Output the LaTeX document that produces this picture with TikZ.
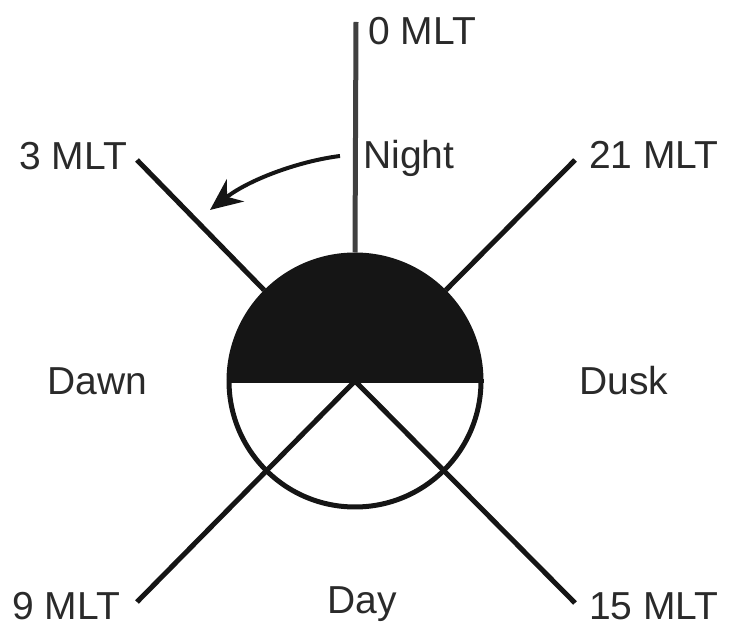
\documentclass[tikz,border=0pt]{standalone}
\usepackage{fontspec}
\setmainfont{Liberation Sans}
\usetikzlibrary{arrows.meta}
\definecolor{ink}{HTML}{151515}
\definecolor{txt}{HTML}{2A2A2A}
\definecolor{vline}{HTML}{404040}
\begin{document}
\begin{tikzpicture}[x=1pt,y=1pt,
  lbl/.style={anchor=base west,inner sep=0pt,text=txt,font=\fontsize{39}{46}\selectfont},
  spoke/.style={draw=ink,line width=5pt},
  disk/.style={circle,draw=ink,line width=5pt,minimum size=252pt,inner sep=0pt}]
\useasboundingbox (0,0) rectangle (732,627);
% disk
\coordinate (c) at (355,246);
\fill[ink] (481,246) arc[start angle=0,end angle=180,radius=126pt] -- cycle;
\node[disk] (d) at (c) {};
\draw[ink,line width=4pt] (d.west) -- (d.east);
% ends
\coordinate (top) at (356,605);
\coordinate (e3) at (137,467);
\coordinate (e21) at (575,467);
\coordinate (e9) at (137,25);
\coordinate (e15) at (575,24);
% spokes
\draw[spoke,draw=vline] (d.north) -- (top);
\draw[spoke] (d.135) -- (e3);
\draw[spoke] (d.45) -- (e21);
\draw[spoke] (c) -- (e9);
\draw[spoke] (c) -- (e15);
% arrow
\coordinate (as) at (340,471);
\coordinate (ae) at (210,417);
\draw[ink,line width=4pt,-{Stealth[length=32pt,width=28pt]}] (as) .. controls (300,466) and (250,448) .. (ae);
% labels
\node[lbl] (l0) at (368,582) {0 MLT};
\node[lbl] (night) at (363,458) {Night};
\node[lbl] (l21) at (589,458) {21 MLT};
\node[lbl] (l3) at (19,457) {3 MLT};
\node[lbl] (dawn) at (47,232) {Dawn};
\node[lbl] (dusk) at (579,232) {Dusk};
\node[lbl] (l9) at (12,7) {9 MLT};
\node[lbl] (day) at (327,13) {Day};
\node[lbl] (l15) at (589,7) {15 MLT};
\end{tikzpicture}
\end{document}
